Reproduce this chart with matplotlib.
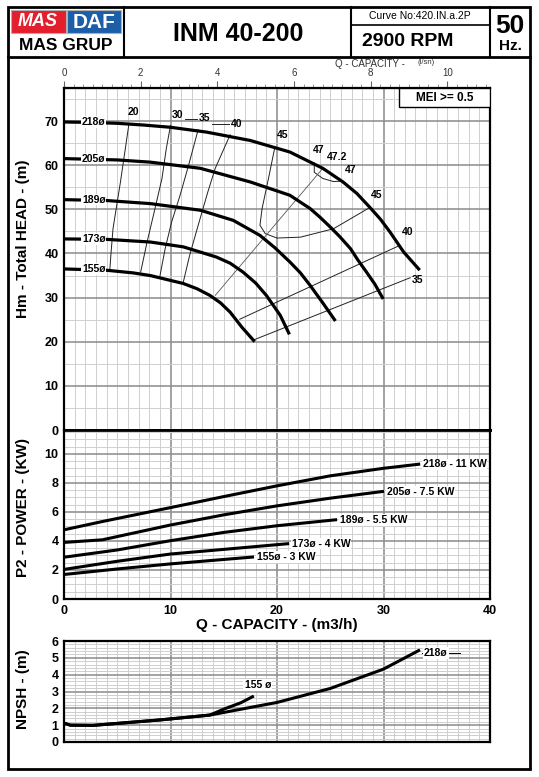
import matplotlib
matplotlib.use("Agg")
import matplotlib.pyplot as plt
from matplotlib.patches import Rectangle
from matplotlib.ticker import MultipleLocator

plt.rcParams['font.family'] = ['Liberation Sans', 'DejaVu Sans']
NARROW = ['Liberation Sans Narrow', 'Liberation Sans', 'DejaVu Sans']

# impeller diameters / motor sizes
diam = ['218', '205', '189', '173', '155']
motor = ['11', '7.5', '5.5', '4', '3']

# Q-H curves (Q m3/h, H m)
q218 = [0, 2.5, 5, 7.5, 10, 13.4, 17.5, 21.2, 24.3, 26.2, 27.5, 28.7, 29.7, 30.6, 31.9, 32.6, 33.3]
h218 = [69.8, 69.7, 69.5, 69.1, 68.6, 67.5, 65.6, 63.0, 59.3, 56.2, 53.6, 50.5, 47.8, 44.9, 40.3, 38.4, 36.5]
q205 = [0, 5, 8.1, 12.8, 17.5, 21.2, 23.1, 24.0, 25.0, 25.9, 26.9, 27.6, 28.4, 29.2, 29.9]
h205 = [61.5, 61.2, 60.7, 59.3, 56.2, 53.2, 50.2, 48.3, 46.0, 43.8, 41.1, 38.5, 35.8, 33.0, 30.0]
q189 = [0, 4, 8.1, 12.8, 15.9, 18.4, 19.8, 21.2, 22.2, 23.1, 24.3, 25.4]
h189 = [52.2, 52.0, 51.3, 49.8, 47.5, 44.1, 41.3, 38.1, 35.6, 32.8, 28.8, 25.0]
q173 = [0, 4, 8.1, 11.2, 14.3, 15.6, 16.8, 18.0, 19.0, 20.3, 21.1]
h173 = [43.3, 43.2, 42.6, 41.5, 39.2, 37.8, 35.8, 33.3, 30.5, 26.0, 22.0]
q155 = [0, 4, 6.5, 8.1, 11.2, 12.5, 13.7, 14.7, 15.6, 16.7, 17.8]
h155 = [36.5, 36.2, 35.6, 35.0, 33.2, 32.0, 30.5, 28.8, 26.7, 23.3, 20.3]

# efficiency lines (%)
e20_q = [6.1, 5.3, 4.6, 4.4, 4.3]
e20_h = [69.4, 56.2, 45.6, 39.6, 36.2]
e30_q = [10.0, 9.6, 9.2, 8.4, 7.8, 7.2]
e30_h = [69.0, 63.7, 57.0, 48.7, 42.6, 35.8]
e35_q = [12.6, 11.7, 10.9, 10.1, 9.5, 9.0]
e35_h = [68.1, 60.0, 53.2, 47.1, 41.1, 34.8]
e40_q = [15.6, 14.2, 13.5, 12.6, 11.8, 11.2]
e40_h = [66.9, 59.3, 53.9, 46.4, 39.6, 33.5]
e45_q = [19.8, 19.2, 18.6, 18.4, 18.9, 20.0, 22.2, 25.3, 28.7]
e45_h = [64.1, 57.0, 50.2, 46.4, 44.5, 43.5, 43.7, 45.6, 50.4]
e47_q = [23.5, 23.5, 24.3, 25.3, 26.1]
e47_h = [60.5, 58.4, 57.0, 56.3, 56.4]
bep_q = [24.3, 14.2]
bep_h = [59.3, 30.5]
e40r_q = [31.5, 16.5]
e40r_h = [41.8, 25.1]
e35r_q = [32.5, 17.8]
e35r_h = [34.5, 20.4]
eff_txt = ['20', '30', '35', '40', '45', '47', '47.2', '47', '45', '40', '35']
eff_lq = [6.5, 10.7, 13.2, 16.2, 20.5, 23.9, 25.6, 26.9, 29.4, 32.3, 33.2]
eff_lh = [72.1, 71.4, 70.7, 69.3, 66.8, 63.4, 61.8, 58.9, 53.2, 44.9, 34.0]

# P2 power curves (kW)
pq218 = [0, 3.6, 10, 15, 20, 25, 30, 33.3]
p218 = [4.77, 5.34, 6.30, 7.06, 7.80, 8.49, 9.01, 9.29]
pq205 = [0, 3.6, 10, 15, 20, 25, 29.9]
p205 = [3.90, 4.08, 5.10, 5.80, 6.42, 6.95, 7.41]
pq189 = [0, 5, 10, 15, 20, 25.5]
p189 = [2.88, 3.38, 4.02, 4.59, 5.05, 5.46]
pq173 = [0, 5, 10, 15, 21.0]
p173 = [2.04, 2.60, 3.10, 3.42, 3.81]
pq155 = [0, 5, 10, 17.7]
p155 = [1.69, 2.07, 2.42, 2.89]

# NPSH curves (m)
nq218 = [0, 0.6, 2.75, 5.9, 9.0, 13.7, 20, 25, 30, 33.3]
n218 = [1.12, 1.0, 0.99, 1.15, 1.31, 1.60, 2.35, 3.18, 4.33, 5.43]
nq155 = [0, 0.6, 2.75, 5.9, 9.0, 13.7, 15.0, 16.6, 17.7]
n155 = [1.12, 1.0, 0.99, 1.15, 1.31, 1.60, 1.95, 2.33, 2.69]

W, H = 539, 777
fig = plt.figure(figsize=(W / 100, H / 100), dpi=100)


def rect(x0, y0, x1, y1):
    return [x0 / W, 1 - y1 / H, (x1 - x0) / W, (y1 - y0) / H]


# sheet frame and header
bg = fig.add_axes([0, 0, 1, 1])
bg.set_xlim(0, W)
bg.set_ylim(H, 0)
bg.axis('off')
bg.add_patch(Rectangle((8, 7), 522, 762, fill=False, lw=2, ec='black'))
bg.plot([8, 530], [57, 57], color='black', lw=2)
for xv in [124, 351, 490]:
    bg.plot([xv, xv], [7, 57], color='black', lw=1.5)
bg.plot([351, 490], [25, 25], color='black', lw=1.2)

bg.add_patch(Rectangle((11, 10), 55, 23, fc='#e31e2d', ec='#b0b0b0', lw=0.8))
bg.add_patch(Rectangle((67, 10), 54, 23, fc='#1d5ea8', ec='#b0b0b0', lw=0.8))
bg.text(38, 22, 'MAS', color='white', fontsize=13, fontweight='bold', style='italic',
        ha='center', va='center')
bg.text(94, 22, 'DAF', color='white', fontsize=15, fontweight='bold', ha='center', va='center')
bg.text(66, 45, 'MAS GRUP', color='black', fontsize=12.5, fontweight='heavy', ha='center', va='center')
bg.text(238, 34, 'INM 40-200', fontsize=18, fontweight='bold', family=NARROW, ha='center', va='center')
bg.text(420, 16, 'Curve No:420.IN.a.2P', fontsize=7.5, ha='center', va='center')
bg.text(408, 41, '2900 RPM', fontsize=14, fontweight='bold', ha='center', va='center')
bg.text(510, 26, '50', fontsize=19, fontweight='bold', ha='center', va='center')
bg.text(510, 46, 'Hz.', fontsize=11, fontweight='bold', ha='center', va='center')
bg.text(335, 64, 'Q - CAPACITY -', fontsize=7, color='#333333', ha='left', va='center')
bg.text(418, 63, '(l/sn)', fontsize=5.5, color='#333333', ha='left', va='center')

ax_h = fig.add_axes(rect(64, 88, 490, 430))
ax_p = fig.add_axes(rect(64, 430, 490, 599))
ax_n = fig.add_axes(rect(64, 641, 490, 742))


def style_grid(ax, xmin, ymaj, ymin):
    ax.set_xlim(0, 40)
    ax.xaxis.set_major_locator(MultipleLocator(10))
    ax.xaxis.set_minor_locator(MultipleLocator(xmin))
    ax.yaxis.set_major_locator(MultipleLocator(ymaj))
    ax.yaxis.set_minor_locator(MultipleLocator(ymin))
    ax.grid(which='major', color='#8a8a8a', lw=1.1)
    ax.grid(which='minor', color='#cfcfcf', lw=0.7)
    ax.set_axisbelow(True)
    for s in ax.spines.values():
        s.set_linewidth(1.6)
    ax.tick_params(which='both', length=0, labelsize=9, pad=4)


# head chart
style_grid(ax_h, 1, 10, 5)
ax_h.set_ylim(0, 77.5)
ax_h.set_yticks(range(0, 80, 10))
ax_h.set_yticklabels([str(v) for v in range(0, 80, 10)], fontweight='bold')
ax_h.tick_params(axis='x', labelbottom=False)
ax_h.spines['bottom'].set_linewidth(2)

for q, h in [(e20_q, e20_h), (e30_q, e30_h), (e35_q, e35_h), (e40_q, e40_h),
             (e45_q, e45_h), (e47_q, e47_h), (e40r_q, e40r_h), (e35r_q, e35r_h)]:
    ax_h.plot(q, h, color='#222222', lw=0.7)
ax_h.plot(bep_q, bep_h, color='#555555', lw=0.6)

head = [(q218, h218), (q205, h205), (q189, h189), (q173, h173), (q155, h155)]
for (q, h), d in zip(head, diam):
    ax_h.plot(q, h, color='black', lw=2.3, solid_joinstyle='round')
    ax_h.text(2.8, h[0], d + 'ø', fontsize=7.5, fontweight='bold', family=NARROW,
              ha='center', va='center',
              bbox=dict(fc='white', ec='none', pad=0.6))

for t, q, h in zip(eff_txt, eff_lq, eff_lh):
    ax_h.text(q, h, t, fontsize=7.5, fontweight='bold', family=NARROW, ha='center', va='center')
# short leaders between the 30 - 35 - 40 labels
for i in (1, 2):
    ax_h.plot([eff_lq[i] + 0.7, eff_lq[i + 1] - 0.7],
              [(eff_lh[i] + eff_lh[i + 1]) / 2 - 0.6] * 2, color='#222222', lw=0.7)

ax_h.add_patch(Rectangle((0.786, 0.944), 0.214, 0.056, transform=ax_h.transAxes,
                         fc='white', ec='black', lw=1, zorder=5))
ax_h.text(0.893, 0.972, 'MEI >= 0.5', transform=ax_h.transAxes, fontsize=8.5,
          fontweight='bold', ha='center', va='center', zorder=6)

ax_h.set_ylabel('Hm - Total HEAD - (m)', fontsize=11, fontweight='bold')
ax_h.yaxis.set_label_coords(-0.08, 0.56)

sec = ax_h.secondary_xaxis('top', functions=(lambda q: q / 3.6, lambda l: l * 3.6))
sec.set_xticks(range(0, 12, 2))
sec.xaxis.set_minor_locator(MultipleLocator(0.25))
sec.tick_params(which='major', length=5, width=0.8, color='#666666', labelsize=7,
                labelcolor='#333333', pad=2)
sec.tick_params(which='minor', length=3, width=0.6, color='#888888')

# power chart
style_grid(ax_p, 1, 2, 0.5)
ax_p.set_ylim(0, 11.65)
ax_p.set_yticks(range(0, 12, 2))
ax_p.set_yticklabels([str(v) for v in range(0, 12, 2)], fontweight='bold')
ax_p.set_xticks(range(0, 50, 10))
ax_p.set_xticklabels([str(v) for v in range(0, 50, 10)], fontweight='bold')
ax_p.spines['top'].set_linewidth(2)
power = [(pq218, p218), (pq205, p205), (pq189, p189), (pq173, p173), (pq155, p155)]
for (q, p), d, kw in zip(power, diam, motor):
    ax_p.plot(q, p, color='black', lw=2.2, solid_joinstyle='round')
    ax_p.text(q[-1] + 0.4, p[-1], d + 'ø - ' + kw + ' KW', fontsize=7.5, fontweight='bold',
              family=NARROW, ha='left', va='center',
              bbox=dict(fc='white', ec='none', pad=0.5))
ax_p.set_ylabel('P2 - POWER - (KW)', fontsize=11, fontweight='bold')
ax_p.yaxis.set_label_coords(-0.08, 0.54)
ax_p.set_xlabel('Q - CAPACITY - (m3/h)', fontsize=11, fontweight='bold', labelpad=1)

# NPSH chart
style_grid(ax_n, 1, 1, 0.2)
ax_n.set_ylim(0, 6)
ax_n.set_yticks(range(0, 7))
ax_n.set_yticklabels([str(v) for v in range(0, 7)], fontweight='bold')
ax_n.tick_params(axis='x', labelbottom=False)
ax_n.plot(nq155, n155, color='black', lw=2.2, solid_joinstyle='round')
ax_n.plot(nq218, n218, color='black', lw=2.2, solid_joinstyle='round')
ax_n.plot([nq218[-1] + 0.3, nq218[-1] + 3.9], [5.27, 5.27], color='black', lw=0.7)
ax_n.text(nq155[-1] + 0.5, 3.38, '155 ø', fontsize=7.5, fontweight='bold', family=NARROW,
          ha='center', va='center', bbox=dict(fc='white', ec='none', pad=0.8))
ax_n.text(nq218[-1] + 1.6, 5.27, '218ø', fontsize=7.5, fontweight='bold', family=NARROW,
          ha='center', va='center', bbox=dict(fc='white', ec='none', pad=0.8))
ax_n.set_ylabel('NPSH - (m)', fontsize=11, fontweight='bold')
ax_n.yaxis.set_label_coords(-0.08, 0.52)

fig.savefig('out.png', dpi=100)
